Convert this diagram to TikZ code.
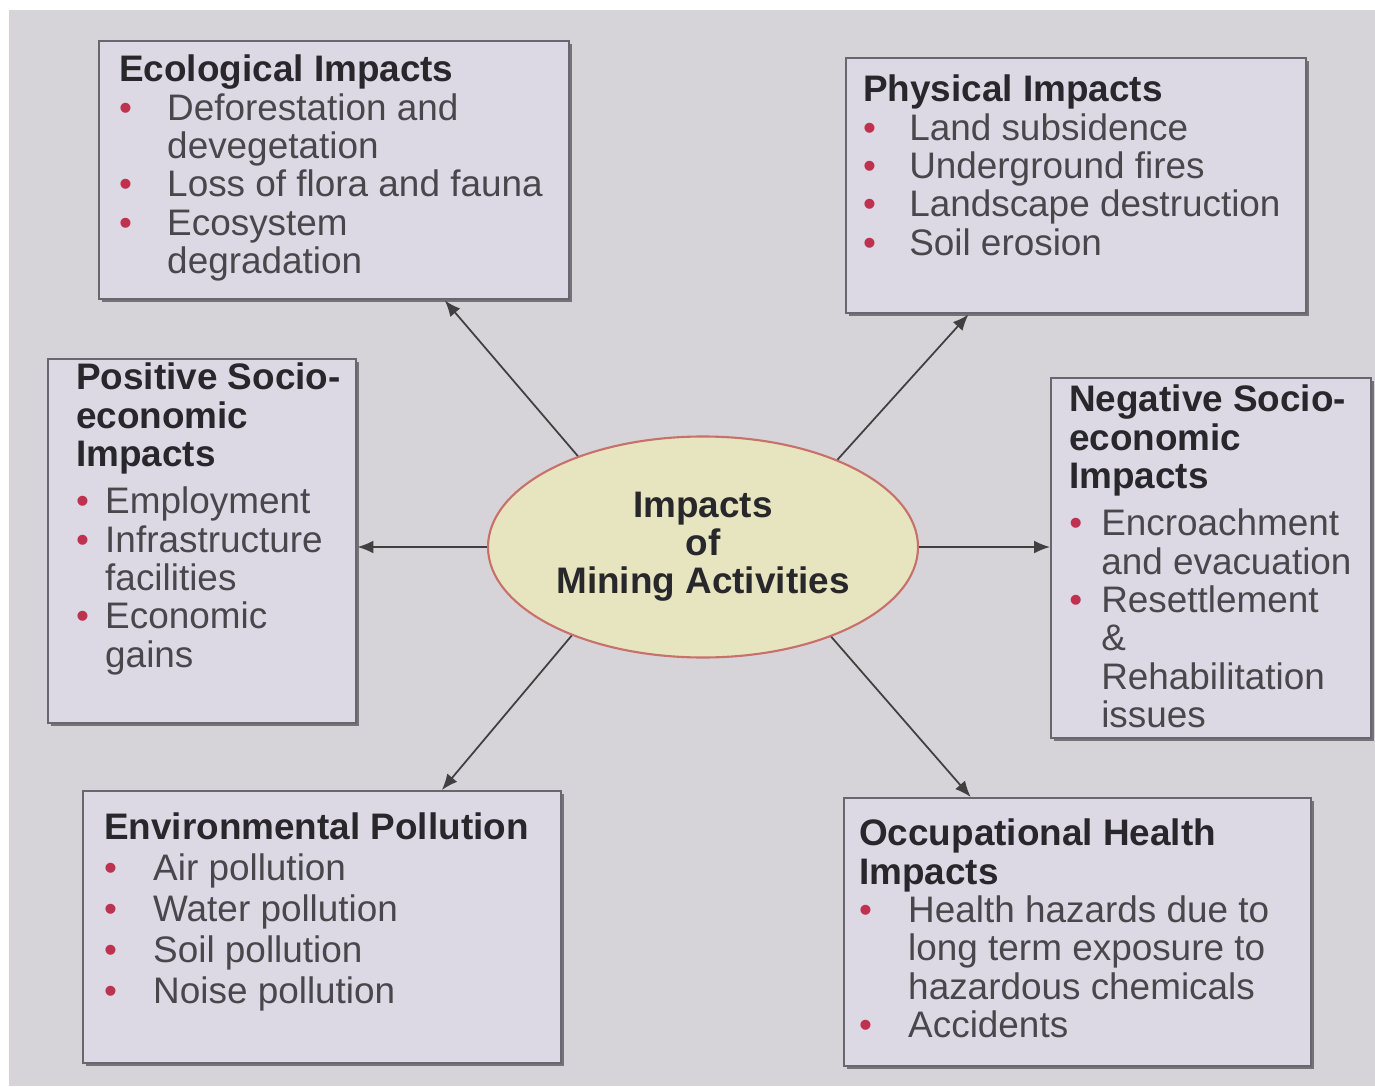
\documentclass[tikz,border=0pt]{standalone}
\usepackage{fontspec}
\setmainfont{Liberation Sans}
\usetikzlibrary{shapes.geometric,shadows,calc,arrows.meta}

\definecolor{paper}{RGB}{214,211,217}
\definecolor{boxfill}{RGB}{221,217,228}
\definecolor{boxline}{RGB}{105,102,112}
\definecolor{hubfill}{RGB}{231,228,192}
\definecolor{hubline}{RGB}{200,112,106}
\definecolor{bulletred}{RGB}{190,50,80}
\definecolor{inkgray}{RGB}{72,72,76}
\definecolor{headgray}{RGB}{40,40,44}

% one heading line, one bullet line, one continued line
\newlength\itmind
\newcommand{\hd}[1]{\par\noindent\mbox{\bfseries\color{headgray}#1}}
\newcommand{\itm}[1]{\par\noindent\makebox[\itmind][l]{\color{bulletred}\textbullet}\mbox{#1}}
\newcommand{\cnt}[1]{\par\noindent\hspace*{\itmind}\mbox{#1}}
% width, height, bullet indent, lines
\newcommand{\paneltext}[4]{\begin{minipage}[t][#2][t]{#1}\setlength\itmind{#3}\color{inkgray}#4\end{minipage}}

\begin{document}
\begin{tikzpicture}[>={Latex[length=1.6mm,width=1.3mm]},
    panel/.style={draw=boxline, line width=0.7pt, fill=boxfill, anchor=north west,
      font=\fontsize{10.5}{10.9}\selectfont,
      drop shadow={shadow xshift=0.03cm, shadow yshift=-0.03cm, fill=black, opacity=.45}},
    hub/.style={ellipse, draw=hubline, line width=0.6pt, fill=hubfill,
      minimum width=4.3cm, minimum height=2.21cm, inner sep=0pt, align=center,
      font=\fontsize{10.5}{10.8}\selectfont\bfseries, text=headgray},
    link/.style={->, draw=black!75, line width=0.5pt}]
  \fill[white] (0,0) rectangle (13.75,-10.86);
  \fill[paper] (0.09,-0.10) rectangle (13.75,-10.86);
  \useasboundingbox (0,0) rectangle (13.75,-10.86);

  % centre
  \node[hub] (mine) at (7.03,-5.47) {Impacts\\of\\Mining Activities};

  % upper row
  \node[panel, inner xsep=0.20cm, inner ysep=0.14cm] (eco) at (0.98,-0.40)
    {\paneltext{4.30cm}{2.30cm}{0.48cm}{
      \hd{Ecological Impacts}
      \itm{Deforestation and}
      \cnt{devegetation}
      \itm{Loss of flora and fauna}
      \itm{Ecosystem}
      \cnt{degradation}}};
  \node[panel, inner xsep=0.17cm, inner ysep=0.17cm] (phys) at (8.45,-0.57)
    {\paneltext{4.26cm}{2.21cm}{0.46cm}{
      \hd{Physical Impacts}
      \itm{Land subsidence}
      \itm{Underground fires}
      \itm{Landscape destruction}
      \itm{Soil erosion}}};

  % middle row
  \node[panel, inner xsep=0.28cm, inner ysep=0.04cm] (pos) at (0.47,-3.58)
    {\paneltext{2.52cm}{3.56cm}{0.29cm}{
      \hd{Positive Socio-}
      \hd{economic}
      \hd{Impacts}
      \par\vspace*{0.09cm}
      \itm{Employment}
      \itm{Infrastructure}
      \cnt{facilities}
      \itm{Economic}
      \cnt{gains}}};
  \node[panel, inner xsep=0.18cm, inner ysep=0.07cm] (neg) at (10.50,-3.77)
    {\paneltext{2.84cm}{3.46cm}{0.32cm}{
      \hd{Negative Socio-}
      \hd{economic}
      \hd{Impacts}
      \par\vspace*{0.09cm}
      \itm{Encroachment}
      \cnt{and evacuation}
      \itm{Resettlement}
      \cnt{\&}
      \cnt{Rehabilitation}
      \cnt{issues}}};

  % lower row
  \node[panel, inner xsep=0.21cm, inner ysep=0.22cm] (env) at (0.82,-7.90)
    {\paneltext{4.36cm}{2.28cm}{0.49cm}{\fontsize{10.5}{11.6}\selectfont
      \hd{Environmental Pollution}
      \itm{Air pollution}
      \itm{Water pollution}
      \itm{Soil pollution}
      \itm{Noise pollution}}};
  \node[panel, inner xsep=0.15cm, inner ysep=0.21cm] (occ) at (8.43,-7.97)
    {\paneltext{4.37cm}{2.26cm}{0.49cm}{
      \hd{Occupational Health}
      \hd{Impacts}
      \itm{Health hazards due to}
      \cnt{long term exposure to}
      \cnt{hazardous chemicals}
      \itm{Accidents}}};

  % arrows out of the centre
  \draw[link] (mine.144) -- ($(eco.south west)!.734!(eco.south east)$);
  \draw[link] (mine.33) -- ($(phys.south west)!.267!(phys.south east)$);
  \draw[link] (mine.west) -- (mine.west -| pos.east);
  \draw[link] (mine.east) -- (mine.east -| neg.west);
  \draw[link] (mine.214) -- ($(env.north west)!.749!(env.north east)$);
  \draw[link] (mine.325) -- ($(occ.north west)!.272!(occ.north east)$);
\end{tikzpicture}
\end{document}
